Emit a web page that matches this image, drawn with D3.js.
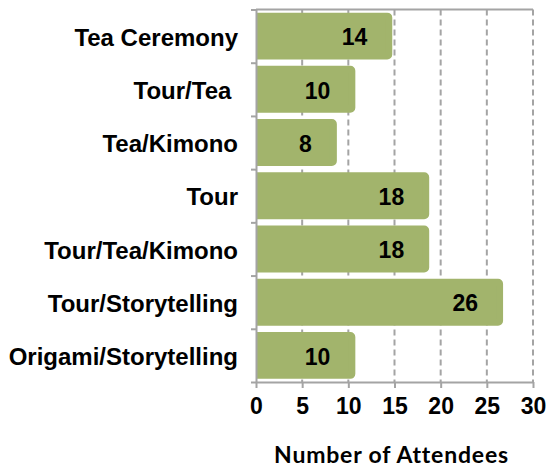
<!DOCTYPE html>
<html>
<head>
<meta charset="utf-8">
<script src="https://cdn.jsdelivr.net/npm/d3@7"></script>
<style>
  html, body { margin: 0; padding: 0; background: #fff; }
  svg { display: block; }
</style>
</head>
<body>
<svg id="chart" width="549" height="469"></svg>
<script>
// Attendance per program
const categories = [
  "Tea Ceremony",
  "Tour/Tea ",
  "Tea/Kimono",
  "Tour",
  "Tour/Tea/Kimono",
  "Tour/Storytelling",
  "Origami/Storytelling"
];
const attendees = [14, 10, 8, 18, 18, 26, 10];
const xTicks = [0, 5, 10, 15, 20, 25, 30];
const xTitle = "Number of Attendees";

const W = 549, H = 469;
const plot = { left: 256, right: 533, top: 9.5, bottom: 382 };
const barColor = "#a2b46c";
const lineColor = "#a4a4a4";
const labelFont = "'Liberation Sans', Arial, sans-serif";

const svg = d3.select("#chart");

const x = d3.scaleLinear().domain([0, 30]).range([plot.left, plot.right]);
const y = d3.scaleBand()
  .domain(categories)
  .range([plot.top, plot.bottom])
  .paddingInner(0.25)
  .paddingOuter(0.125);
// band boundaries, used for the category tick marks
const yEdges = d3.scaleLinear().domain([0, categories.length]).range([plot.top, plot.bottom]);

// dashed vertical gridlines
svg.append("g")
  .selectAll("line")
  .data(xTicks.filter(d => d > 0))
  .join("line")
  .attr("x1", d => x(d)).attr("x2", d => x(d))
  .attr("y1", plot.top).attr("y2", plot.bottom)
  .attr("stroke", lineColor)
  .attr("stroke-width", 2)
  .attr("stroke-dasharray", "6,4");

// top border of the plot area
svg.append("line")
  .attr("x1", x(0)).attr("x2", x(30))
  .attr("y1", plot.top).attr("y2", plot.top)
  .attr("stroke", lineColor).attr("stroke-width", 2);

// bars: a rounded outline pads each bar; clip keeps the left edge on the axis
svg.append("clipPath").attr("id", "plotClip")
  .append("rect")
  .attr("x", plot.left).attr("y", 0)
  .attr("width", W - plot.left).attr("height", H);

const bw = 7;
svg.append("g")
  .attr("clip-path", "url(#plotClip)")
  .selectAll("rect")
  .data(categories.map((c, i) => ({ c, v: attendees[i] })))
  .join("rect")
  .attr("x", x(0) - 10 + bw / 2)
  .attr("y", d => y(d.c))
  .attr("width", d => x(d.v) - x(0) + 10)
  .attr("height", y.bandwidth())
  .attr("rx", 1.5)
  .attr("fill", barColor)
  .attr("stroke", barColor)
  .attr("stroke-width", bw)
  .attr("stroke-linejoin", "round");

// value labels inside the bar ends
svg.append("g")
  .selectAll("text")
  .data(categories.map((c, i) => ({ c, v: attendees[i] })))
  .join("text")
  .attr("x", d => x(d.v) - 18)
  .attr("y", d => y(d.c) + y.bandwidth() / 2)
  .attr("dy", "0.4em")
  .attr("text-anchor", "end")
  .attr("font-family", labelFont)
  .attr("font-weight", "bold")
  .attr("font-size", 23)
  .attr("fill", "#000")
  .text(d => d.v);

// x axis
const xAxis = svg.append("g")
  .attr("transform", `translate(0,${plot.bottom})`)
  .call(d3.axisBottom(x).tickValues(xTicks).tickSize(6).tickSizeOuter(0).tickPadding(10));
xAxis.select(".domain").attr("stroke", lineColor).attr("stroke-width", 2);
xAxis.selectAll(".tick line").attr("stroke", lineColor).attr("stroke-width", 2);
xAxis.selectAll(".tick text")
  .attr("font-family", labelFont)
  .attr("font-weight", "bold")
  .attr("font-size", 23)
  .attr("fill", "#000");

// y axis: tick marks between categories
const yAxis = svg.append("g")
  .attr("transform", `translate(${plot.left},0)`)
  .call(d3.axisLeft(yEdges).ticks(categories.length).tickSize(5).tickSizeOuter(0).tickFormat(""));
yAxis.select(".domain").attr("stroke", lineColor).attr("stroke-width", 2);
yAxis.selectAll(".tick line").attr("stroke", lineColor).attr("stroke-width", 2);

// category labels
svg.append("g")
  .selectAll("text")
  .data(categories)
  .join("text")
  .attr("x", 238)
  .attr("y", d => y(d) + y.bandwidth() / 2)
  .attr("dy", "0.4em")
  .attr("text-anchor", "end")
  .attr("font-family", labelFont)
  .attr("font-weight", "bold")
  .attr("font-size", 24)
  .attr("fill", "#000")
  .style("white-space", "pre")
  .text(d => d);

// axis title
svg.append("text")
  .attr("x", 391.5)
  .attr("y", 463)
  .attr("text-anchor", "middle")
  .attr("font-family", "Lato, 'Open Sans', sans-serif")
  .attr("font-weight", "bold")
  .attr("font-size", 23)
  .attr("letter-spacing", 0.8)
  .attr("fill", "#000")
  .text(xTitle);
</script>
</body>
</html>
